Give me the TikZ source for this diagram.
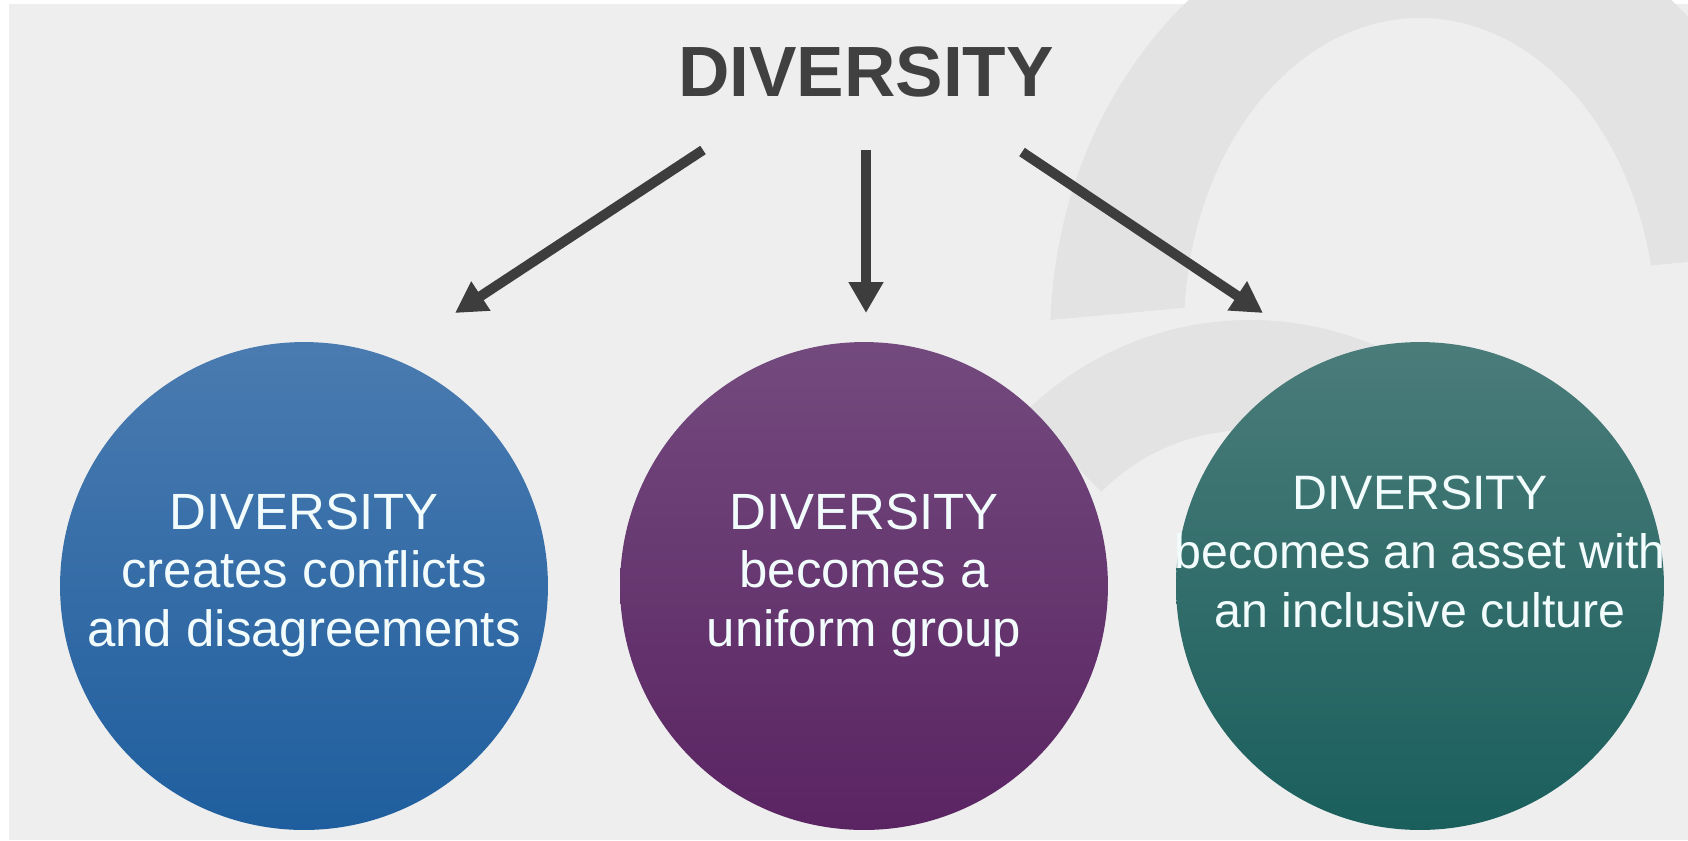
\documentclass[tikz,border=0pt]{standalone}
\usepackage{fontspec}
\setmainfont{Liberation Sans}
\usepackage{xcolor}
\usetikzlibrary{positioning,shapes,arrows.meta}

\definecolor{bgGray}{HTML}{EEEEEE}
\definecolor{markGray}{HTML}{E3E3E3}
\definecolor{arrowGray}{HTML}{3D3D3D}
\definecolor{titleGray}{HTML}{404040}
\definecolor{blueTop}{HTML}{4A7BB0}
\definecolor{blueBot}{HTML}{1F5E9E}
\definecolor{plumTop}{HTML}{734A7E}
\definecolor{plumBot}{HTML}{5A2462}
\definecolor{tealTop}{HTML}{4A7C7A}
\definecolor{tealBot}{HTML}{1A5F5C}
\definecolor{labelWhite}{HTML}{F2FCFC}

\begin{document}
\begin{tikzpicture}[x=0.02cm,y=-0.02cm]
\tikzstyle{ball}=[circle,minimum size=9.76cm,inner sep=0pt,shading=axis];
\tikzstyle{circtext}=[text=labelWhite,align=center,font=\fontsize{29}{33.3}\selectfont];
\tikzstyle{pointer}=[draw=arrowGray,line width=0.2cm,-{Triangle[length=0.62cm,width=0.66cm]}];

\useasboundingbox (0,0) rectangle (1688,840);
\fill[white] (0,0) rectangle (1688,840);
\fill[bgGray] (9,4) rectangle (1688,840);

% watermark
\begin{scope}
\clip (1000,0) -- (1688,0) -- (1688,262) -- (1050,320) -- cycle;
\fill[markGray,even odd rule] (1430,340) ellipse [x radius=380,y radius=440]
  (1420,330) ellipse [x radius=236,y radius=312];
\end{scope}
\fill[markGray] ([shift={(-135:320)}]1250,640) arc[start angle=-135,end angle=-60,radius=320]
  -- ([shift={(-60:210)}]1250,640) arc[start angle=-60,end angle=-135,radius=210] -- cycle;

\node[font=\bfseries\fontsize{40.5}{48}\selectfont,text=titleGray] (title) at (866,72) {DIVERSITY};

\coordinate (s1) at (703,150);
\coordinate (e1) at (455,313);
\coordinate (s2) at (866,150);
\coordinate (e2) at (866,313);
\coordinate (s3) at (1022,152);
\coordinate (e3) at (1263,313);
\foreach \i in {1,2,3} \draw[pointer] (s\i) -- (e\i);

\node[ball,top color=blueTop,bottom color=blueBot] (c1) at (304,586) {};
\node[ball,top color=plumTop,bottom color=plumBot] (c2) at (864,586) {};
\node[ball,top color=tealTop,bottom color=tealBot] (c3) at (1420,586) {};

\node[circtext] (t1) at (304,575) {DIVERSITY\\creates conflicts\\and disagreements};
\node[circtext] (t2) at (864,575) {DIVERSITY\\becomes a\\uniform group};
\node[circtext,font=\fontsize{27.5}{33.6}\selectfont] (t3) at (1420,552) {DIVERSITY\\becomes an asset with\\an inclusive culture};
\end{tikzpicture}
\end{document}
